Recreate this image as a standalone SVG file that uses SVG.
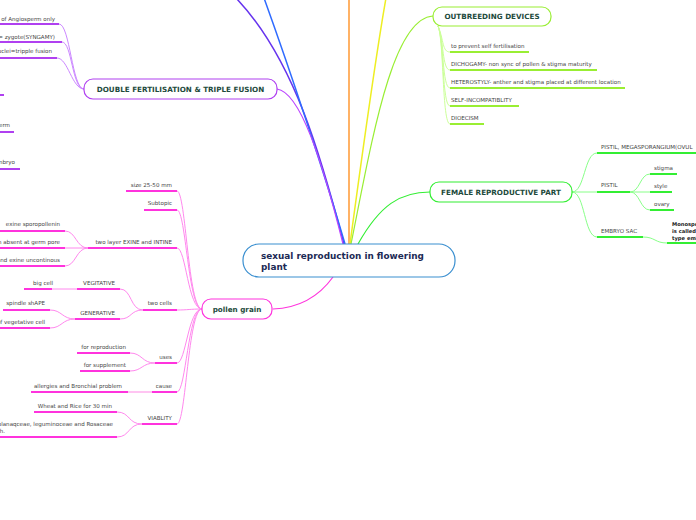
<svg xmlns="http://www.w3.org/2000/svg" width="696" height="520" viewBox="0 0 696 520">
<style>
.t{font-family:"DejaVu Sans",Verdana,sans-serif;font-size:5.55px;fill:#444}
.e{text-anchor:end}
.nt{font-family:"DejaVu Sans",Verdana,sans-serif;font-size:7.2px;font-weight:bold;fill:#1d4a3c;text-anchor:middle}
.ct{font-family:"DejaVu Sans",Verdana,sans-serif;font-size:8.9px;font-weight:bold;fill:#1c2a55}
.mb{font-family:"DejaVu Sans",Verdana,sans-serif;font-size:5.2px;font-weight:bold;fill:#222}
.c{fill:none;stroke-width:1}
.u{fill:none;stroke-width:2}
.pc{stroke:#ff88ee}.pu{stroke:#ff33dd}
.dc{stroke:#cc88ff}.du{stroke:#b040f0}
.oc{stroke:#ccff99}.ou{stroke:#99ee33}
.fc{stroke:#88ff88}.fu{stroke:#33ee33}
</style>
<g id="connectors">
<path d="M344,244 C 322,160 295,60 236,-2" fill="none" stroke="#6633ee" stroke-width="1.5"/>
<path d="M345,244 C 325,175 290,70 264,-2" fill="none" stroke="#2f6bff" stroke-width="1.5"/>
<path d="M349,244 L349,0" fill="none" stroke="#ff9933" stroke-width="1.5"/>
<path d="M350,244 C 360,170 375,60 386,-2" fill="none" stroke="#eeee22" stroke-width="1.5"/>
<path d="M351,244 C 372,140 392,18 433,16" fill="none" stroke="#99ee33" stroke-width="1.2"/>
<path d="M358,244 C 380,205 400,192 430,192" fill="none" stroke="#33ee33" stroke-width="1.2"/>
<path d="M277,89 C 300,92 322,160 343,244" fill="none" stroke="#bb44ff" stroke-width="1.2"/>
<path d="M273,309 C 300,308 320,295 333,277" fill="none" stroke="#ff33dd" stroke-width="1.2"/>
<path class="c dc" d="M59,24 C 70,24 72,89 84,89"/>
<path class="c dc" d="M62,42 C 72,42 72,89 84,89"/>
<path class="c dc" d="M57,58 C 68,58 72,89 84,89"/>
<path class="c pc" d="M177,191 C 186,191 188,309 202,309"/>
<path class="c pc" d="M177,210 C 186,210 188,309 202,309"/>
<path class="c pc" d="M177,248 C 186,248 188,309 202,309"/>
<path class="c pc" d="M177,310 C 188,310 190,309 202,309"/>
<path class="c pc" d="M177,363 C 186,363 188,309 202,309"/>
<path class="c pc" d="M177,392 C 186,392 188,309 202,309"/>
<path class="c pc" d="M177,424 C 186,424 188,309 202,309"/>
<path class="c pc" d="M65,231 C 76,231 76,248 88,248"/>
<path class="c pc" d="M65,248 L88,248"/>
<path class="c pc" d="M65,266 C 76,266 76,248 88,248"/>
<path class="c pc" d="M120,289 C 132,289 130,310 143,310"/>
<path class="c pc" d="M120,319 C 132,319 130,310 143,310"/>
<path class="c pc" d="M52,289 L77,289"/>
<path class="c pc" d="M50,310 C 62,310 62,319 75,319"/>
<path class="c pc" d="M50,328 C 62,328 62,319 75,319"/>
<path class="c pc" d="M130,353 C 142,353 142,363 155,363"/>
<path class="c pc" d="M130,371 C 142,371 142,363 155,363"/>
<path d="M128,392 L152,392" fill="none" stroke="#ffc4f2" stroke-width="2"/>
<path class="c pc" d="M117,412 C 130,412 128,424 142,424"/>
<path class="c pc" d="M117,437 C 130,437 128,424 142,424"/>
<path class="c oc" d="M438,26 C 444,40 442,52 450,52"/>
<path class="c oc" d="M438,26 C 444,40 442,70 450,70"/>
<path class="c oc" d="M438,26 C 444,40 442,88 450,88"/>
<path class="c oc" d="M438,26 C 444,40 442,106 450,106"/>
<path class="c oc" d="M438,26 C 444,40 442,124 450,124"/>
<path class="c fc" d="M572,192 C 585,192 584,153 597,153"/>
<path class="c fc" d="M572,192 L597,192"/>
<path class="c fc" d="M572,192 C 585,192 584,237 597,237"/>
<path class="c fc" d="M630,192 C 640,192 640,174 650,174"/>
<path class="c fc" d="M630,192 L650,192"/>
<path class="c fc" d="M630,192 C 640,192 640,210 650,210"/>
<path class="c fc" d="M643,237 C 655,237 655,243 667,243"/>
</g>
<g id="central">
<rect x="243" y="244" width="212" height="33" rx="16" fill="#fff" stroke="#3a8fd0" stroke-width="1.2"/>
<text class="ct" x="261" y="259">sexual reproduction in flowering</text>
<text class="ct" x="261" y="270">plant</text>
</g>
<g id="double-fertilisation">
<rect x="84" y="79" width="193" height="20" rx="9" fill="#fff" stroke="#b040f0" stroke-width="1.2"/>
<text class="nt" x="180.5" y="91.5">DOUBLE FERTILISATION &amp; TRIPLE FUSION</text>
</g>
<g id="df-children">
<path class="u du" d="M0,24 H59 M0,42 H62 M0,58 H57 M0,95 H4 M0,132 H14 M0,169 H20"/>
<text class="t e" x="55" y="21">of Angiosperm only</text>
<text class="t e" x="55" y="38.5">= zygote(SYNGAMY)</text>
<text class="t e" x="52" y="53">uclei=tripple fusion</text>
<text class="t e" x="10" y="127">erm</text>
<text class="t e" x="15" y="164">nbryo</text>
</g>
<g id="pollen-grain">
<rect x="202" y="299" width="70" height="20" rx="9" fill="#fff" stroke="#ff33dd" stroke-width="1.2"/>
<text class="nt" x="237" y="312">pollen grain</text>
</g>
<g id="pollen-children">
<path class="u pu" d="M126,191 H177 M144,210 H177 M88,248 H177 M143,310 H177 M155,363 H177 M152,392 H177 M142,424 H177"/>
<path class="u pu" d="M0,231 H65 M0,248 H65 M0,266 H65 M77,289 H120 M24,289 H52 M75,319 H120 M3,310 H50 M0,328 H50 M77,353 H130 M80,371 H130 M31,392 H128 M34,412 H117 M0,437 H117"/>
<text class="t e" x="172" y="187">size 25-50 mm</text>
<text class="t e" x="172" y="205">Subtopic</text>
<text class="t e" x="172" y="243.5">two layer EXINE and INTINE</text>
<text class="t e" x="60" y="226">exine sporopollenin</text>
<text class="t e" x="60" y="243.5">n absent at germ pore</text>
<text class="t e" x="60" y="261.5">and exine uncontinous</text>
<text class="t e" x="172" y="305">two cells</text>
<text class="t e" x="115" y="285">VEGITATIVE</text>
<text class="t e" x="53" y="285">big cell</text>
<text class="t e" x="115" y="314.5">GENERATIVE</text>
<text class="t e" x="45" y="305">spindle shAPE</text>
<text class="t e" x="45" y="323.5">of vegetative cell</text>
<text class="t e" x="172" y="358.5">uses</text>
<text class="t e" x="126" y="349">for reproduction</text>
<text class="t e" x="126" y="367">for supplement</text>
<text class="t e" x="172" y="387.5">cause</text>
<text class="t e" x="122" y="387.5">allergies and Bronchial problem</text>
<text class="t e" x="172" y="419.5">VIABLITY</text>
<text class="t e" x="112" y="407.5">Wheat and Rice for 30 min</text>
<text class="t e" x="113" y="426">olanaqceae, leguminoceae and Rosaceae</text>
<text class="t e" x="5" y="432.5">h.</text>
</g>
<g id="outbreeding-devices">
<rect x="433" y="7" width="118" height="19" rx="9" fill="#fff" stroke="#99ee33" stroke-width="1.2"/>
<text class="nt" x="492" y="19">OUTBREEDING DEVICES</text>
</g>
<g id="outbreeding-children">
<path class="u ou" d="M450,52 H529 M450,70 H597 M450,88 H625 M450,106 H519 M450,124 H484"/>
<text class="t" x="451" y="48">to prevent self fertilisation</text>
<text class="t" x="451" y="66">DICHOGAMY- non sync of pollen &amp; stigma maturity</text>
<text class="t" x="451" y="84">HETEROSTYLY- anther and stigma placed at different location</text>
<text class="t" x="451" y="102">SELF-INCOMPATIBLITY</text>
<text class="t" x="451" y="120">DIOECISM</text>
</g>
<g id="female-reproductive-part">
<rect x="430" y="182" width="142" height="20" rx="9" fill="#fff" stroke="#33ee33" stroke-width="1.2"/>
<text class="nt" x="501" y="194.5">FEMALE REPRODUCTIVE PART</text>
</g>
<g id="female-children">
<path class="u fu" d="M597,153 H696 M597,192 H630 M597,237 H643 M650,174 H677 M650,192 H672 M650,210 H674 M667,243 H696"/>
<text class="t" x="601" y="149">PISTIL, MEGASPORANGIUM(OVUL</text>
<text class="t" x="601" y="187">PISTIL</text>
<text class="t" x="654" y="170">stigma</text>
<text class="t" x="654" y="188">style</text>
<text class="t" x="654" y="206">ovary</text>
<text class="t" x="601" y="232.5">EMBRYO SAC</text>
<text class="mb" x="672" y="226">Monospo</text>
<text class="mb" x="672" y="233">is called I</text>
<text class="mb" x="672" y="240">type emb</text>
</g>
</svg>
